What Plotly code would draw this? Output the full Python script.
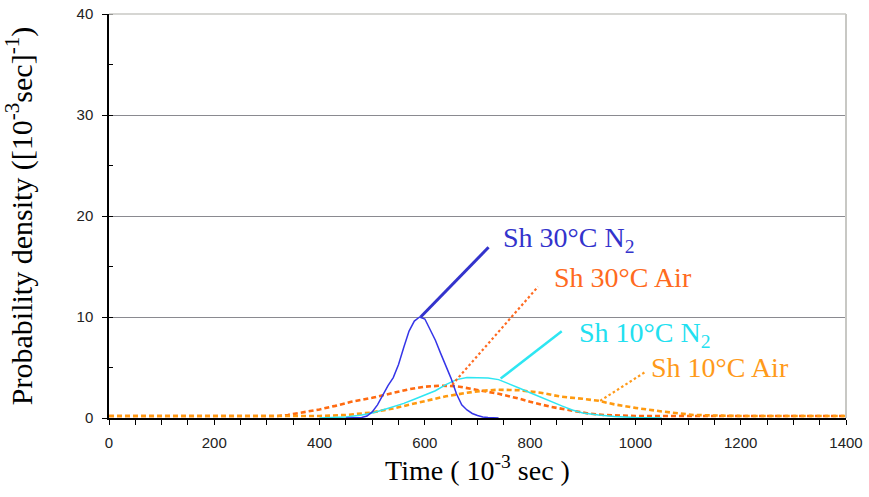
import plotly.graph_objects as go

# ---------------- data ----------------
t_30N2 = [450, 480, 490, 500, 510, 520, 530, 540, 550, 560, 570, 580, 590, 600, 610,
          620, 630, 640, 650, 660, 670, 680, 690, 700, 710, 720, 730, 740]
p_30N2 = [0, 0.05, 0.2, 0.6, 1.3, 2.3, 3.2, 4.0, 5.3, 7.0, 8.6, 9.6, 10.0, 9.8, 8.8,
          7.7, 6.4, 5.2, 3.9, 2.4, 1.3, 0.8, 0.45, 0.25, 0.1, 0.04, 0.01, 0]

t_10N2 = [400, 450, 480, 500, 520, 540, 560, 580, 600, 620, 640, 660, 680, 700, 720,
          740, 760, 780, 800, 820, 840, 860, 880, 900, 930, 960, 1000, 1050]
p_10N2 = [0, 0.1, 0.3, 0.5, 0.8, 1.1, 1.45, 1.85, 2.25, 2.7, 3.3, 3.8, 4.0, 4.0, 3.95,
          3.8, 3.4, 2.95, 2.5, 2.05, 1.6, 1.2, 0.8, 0.5, 0.3, 0.15, 0.05, 0]

t_30Air = [0, 320, 340, 365, 400, 430, 460, 500, 540, 570, 600, 630, 660, 700, 740,
           780, 800, 840, 880, 910, 940, 980, 1000, 1400]
p_30Air = [0.2, 0.2, 0.3, 0.5, 0.85, 1.2, 1.6, 2.0, 2.5, 2.85, 3.1, 3.2, 3.15, 2.75, 2.4,
           1.9, 1.6, 1.1, 0.7, 0.45, 0.3, 0.2, 0.2, 0.2]

t_10Air = [0, 400, 450, 500, 540, 560, 600, 640, 680, 710, 740, 780, 820, 860, 900,
           930, 960, 1000, 1050, 1080, 1110, 1150, 1200, 1400]
p_10Air = [0.2, 0.2, 0.3, 0.55, 0.95, 1.2, 1.7, 2.15, 2.5, 2.7, 2.8, 2.75, 2.5, 2.1, 1.9,
           1.7, 1.35, 1.0, 0.65, 0.45, 0.3, 0.25, 0.2, 0.2]

series_names = ["Sh 30°C N<sub>2</sub>", "Sh 30°C Air", "Sh 10°C N<sub>2</sub>", "Sh 10°C Air"]
# label anchor (left/middle) and leader line (curve point -> label end), data units
label_x = [744, 842, 889, 1025]
label_y = [17.7, 13.9, 8.3, 5.0]
leader_x0 = [592, 652, 744, 933]
leader_y0 = [10.0, 3.3, 3.9, 1.7]
leader_x1 = [721, 815, 860, 1017]
leader_y1 = [16.9, 13.0, 8.6, 4.5]

x_ticks = [0, 200, 400, 600, 800, 1000, 1200, 1400]
y_ticks = [0, 10, 20, 30, 40]

# ---------------- styles ----------------
line_colors = ["#3535E8", "#FF6A10", "#2EE6F2", "#FF9A10"]
label_colors = ["#3333CC", "#FF6A20", "#22E0F0", "#FF9A1A"]
leader_dash = ["solid", "2.5px,2.5px", "solid", "2.5px,2.5px"]
leader_width = [3, 2.2, 2.5, 2.2]

fig = go.Figure()
fig.add_trace(go.Scatter(x=t_30Air, y=p_30Air, mode="lines",
                         line=dict(color=line_colors[1], width=2.6, dash="5px,3px")))
fig.add_trace(go.Scatter(x=t_10Air, y=p_10Air, mode="lines",
                         line=dict(color=line_colors[3], width=2.6, dash="5px,3px")))
fig.add_trace(go.Scatter(x=t_10N2, y=p_10N2, mode="lines",
                         line=dict(color=line_colors[2], width=1.5)))
fig.add_trace(go.Scatter(x=t_30N2, y=p_30N2, mode="lines",
                         line=dict(color=line_colors[0], width=1.5)))

serif = "Liberation Serif, Times New Roman, serif"
for i, name in enumerate(series_names):
    fig.add_trace(go.Scatter(x=[leader_x0[i], leader_x1[i]], y=[leader_y0[i], leader_y1[i]],
                             mode="lines",
                             line=dict(color=label_colors[i] if i != 2 else line_colors[2],
                                       width=leader_width[i], dash=leader_dash[i])))
    fig.add_annotation(x=label_x[i], y=label_y[i], text=name, showarrow=False,
                       xanchor="left", yanchor="middle",
                       font=dict(family=serif, size=28, color=label_colors[i]))

# plot frame: light top and right border
fig.add_shape(type="line", xref="x domain", yref="y domain", x0=0, x1=1, y0=1, y1=1,
              line=dict(color="#C8C8C4", width=1.5), layer="above")
fig.add_shape(type="line", xref="x domain", yref="y domain", x0=1, x1=1, y0=0, y1=1,
              line=dict(color="#C8C8C4", width=2), layer="above")

tickfont = dict(family="Liberation Sans, Arial, sans-serif", size=15, color="#222222")
fig.update_xaxes(range=[0, 1400], tickvals=x_ticks, ticks="outside", ticklen=5,
                 tickcolor="black", showline=True, linecolor="black", linewidth=1.5,
                 showgrid=False, zeroline=False, tickfont=tickfont, ticklabelstandoff=5,
                 automargin=False, ticklabeloverflow="allow",
                 minor=dict(dtick=50, ticks="outside", ticklen=5, tickcolor="black"),
                 title=dict(text="Time ( 10<sup>-3</sup> sec )", standoff=8,
                            font=dict(family=serif, size=28, color="black")))
fig.update_yaxes(range=[0, 40], tickvals=y_ticks, ticks="outside", ticklen=5,
                 tickcolor="black", showline=True, linecolor="black", linewidth=1.5,
                 showgrid=True, gridcolor="#8A8A90", gridwidth=1, zeroline=False,
                 tickfont=tickfont, ticklabelstandoff=6, automargin=False,
                 ticklabeloverflow="allow",
                 minor=dict(dtick=5, ticks="inside", ticklen=4, tickcolor="black", showgrid=False),
                 title=dict(text="Probability density ([10<sup>-3</sup>sec]<sup>-1</sup>)", standoff=36,
                            font=dict(family=serif, size=30, color="black")))

fig.update_layout(width=869, height=497, margin=dict(l=109, r=23, t=14, b=79),
                  plot_bgcolor="white", paper_bgcolor="white", showlegend=False)

# remove the browser's default 8px body margin so the figure fills the window exactly
fig.write_html("out.html", config={"displayModeBar": False},
               post_script="document.body.style.margin='0px';")
